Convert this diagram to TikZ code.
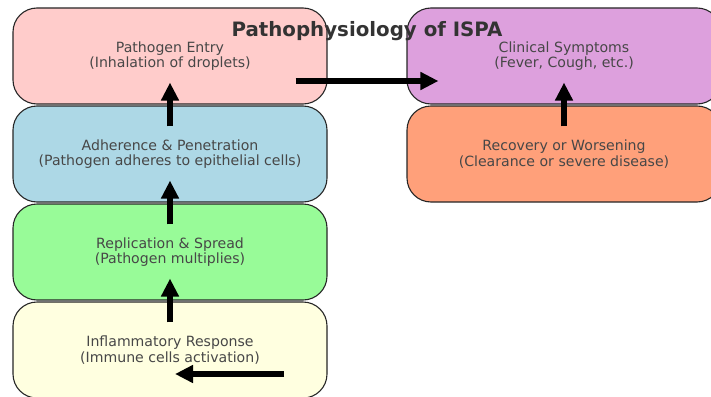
\documentclass[tikz,border=0pt]{standalone}
\usepackage{fontspec}
\setmainfont{DejaVu Sans}
\usetikzlibrary{arrows.meta}

\definecolor{entrypink}{HTML}{FFCCCB}
\definecolor{adhereblue}{HTML}{ADD8E6}
\definecolor{spreadgreen}{HTML}{98FB98}
\definecolor{inflamyellow}{HTML}{FFFFE0}
\definecolor{symptomplum}{HTML}{DDA0DD}
\definecolor{recoverysalmon}{HTML}{FFA07A}

\tikzset{
	stagebox/.style={draw=black!85, line width=1.1pt, rounded corners=24pt,
		minimum width=314pt, minimum height=96pt, align=center, text=black!72,
		font=\fontsize{14.1}{15.3}\selectfont},
	flow/.style={line width=6pt, -{Triangle[width=17pt,length=18pt]}}
}

\begin{document}
\begin{tikzpicture}[x=1pt, y=-1pt]
		\useasboundingbox (0,0) rectangle (711,396);
		\clip (0,0) rectangle (711,396);
		
		% Stages
		\node[stagebox, fill=entrypink] (entry) at (170, 56) {Pathogen Entry\\(Inhalation of droplets)};
		\node[stagebox, fill=adhereblue] (adhere) at (170, 154) {Adherence \& Penetration\\(Pathogen adheres to epithelial cells)};
		\node[stagebox, fill=spreadgreen] (spread) at (170, 252) {Replication \& Spread\\(Pathogen multiplies)};
		\node[stagebox, fill=inflamyellow] (inflam) at (170, 350) {Inflammatory Response\\(Immune cells activation)};
		
		\node[stagebox, fill=symptomplum] (symptoms) at (564, 56) {Clinical Symptoms\\(Fever, Cough, etc.)};
		\node[stagebox, fill=recoverysalmon] (recovery) at (564, 154) {Recovery or Worsening\\(Clearance or severe disease)};
		
		% Arrow ends
		\coordinate (E_1) at ([shift={(-32pt,-25pt)}]entry.east);
		\coordinate (S_1) at ([shift={(32pt,-25pt)}]symptoms.west);
		\coordinate (I_0) at ([shift={(114pt,-24pt)}]inflam.center);
		\coordinate (I_1) at ([shift={(5pt,-24pt)}]inflam.center);
		
		% Arrows up
		\draw[flow] ([yshift=-21pt]adhere.north) -- ([yshift=22pt]entry.south);
		\draw[flow] ([yshift=-21pt]spread.north) -- ([yshift=22pt]adhere.south);
		\draw[flow] ([yshift=-21pt]inflam.north) -- ([yshift=22pt]spread.south);
		\draw[flow] ([yshift=-21pt]recovery.north) -- ([yshift=22pt]symptoms.south);
		
		% Arrows across
		\draw[flow] (E_1) -- (S_1);
		\draw[flow] (I_0) -- (I_1);
		
		% Title
		\node[text=black!80, font=\bfseries\fontsize{19.8}{22}\selectfont] (title) at (367, 31) {Pathophysiology of ISPA};
	\end{tikzpicture}
\end{document}
